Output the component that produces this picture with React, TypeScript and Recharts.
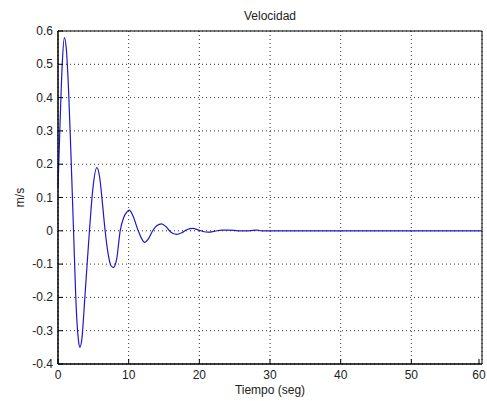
import React from 'react';
import { LineChart, Line, XAxis, YAxis, CartesianGrid, ReferenceArea } from 'recharts';

// time samples (s)
const tiempo = [
  0, 0.3, 0.6, 0.9, 1.2, 1.5, 1.8, 2.2, 2.6, 2.9, 3.1, 3.4, 3.8, 4.45, 4.9, 5.5,
  5.9, 6.3, 6.67, 7.1, 7.5, 7.85, 8.3, 8.8, 9.3, 9.7, 10.1, 10.6, 11.35, 11.8,
  12.25, 12.8, 13.4, 14.0, 14.65, 15.3, 15.9, 16.8, 17.6, 18.3, 19.05, 19.8,
  20.5, 21.3, 22.2, 23.2, 24.2, 25.5, 27, 28.2, 28.8, 30, 40, 50, 60,
];
// velocity (m/s)
const velocidad = [
  0.13, 0.33, 0.5, 0.58, 0.54, 0.42, 0.25, 0, -0.24, -0.33, -0.35, -0.32, -0.2,
  0, 0.12, 0.19, 0.16, 0.08, 0, -0.07, -0.105, -0.11, -0.085, 0, 0.04, 0.055,
  0.062, 0.045, 0, -0.022, -0.035, -0.024, 0, 0.016, 0.021, 0.012, -0.003,
  -0.011, -0.005, 0.004, 0.007, 0.003, -0.002, -0.004, -0.001, 0.002, 0.002, 0,
  0, 0.002, 0, 0, 0, 0, 0,
];

const xTicks = [0, 10, 20, 30, 40, 50, 60];
const yTicks = [-0.4, -0.3, -0.2, -0.1, 0, 0.1, 0.2, 0.3, 0.4, 0.5, 0.6];

const data = tiempo.map((t, i) => ({ t, v: velocidad[i] }));

const font = 'Liberation Sans, Arial, sans-serif';
const textStyle = { fontSize: 12, fill: '#222', fontFamily: font };
const fmt = (v: number) => String(Math.round(v * 10) / 10);

// recharts places the tick at tickSize + tickMargin away from the axis line
const TICK_SIZE = 6;
const TICK_MARGIN = 2;
const OFF = TICK_SIZE + TICK_MARGIN;

// matlab style: tick marks point into the plot box
const BottomTick = (props: any) => {
  const { x, payload } = props;
  const y = props.y - OFF;
  return (
    <g>
      <line x1={x} y1={y} x2={x} y2={y - 5} stroke="#000" />
      <text x={x} y={y + 15} textAnchor="middle" {...textStyle}>{payload.value}</text>
    </g>
  );
};
const TopTick = (props: any) => {
  const { x } = props;
  const y = props.y + OFF;
  return <line x1={x} y1={y} x2={x} y2={y + 5} stroke="#000" />;
};
const LeftTick = (props: any) => {
  const { y, payload } = props;
  const x = props.x + OFF;
  return (
    <g>
      <line x1={x} y1={y} x2={x + 5} y2={y} stroke="#000" />
      <text x={x - 5} y={y + 4} textAnchor="end" {...textStyle}>{fmt(payload.value)}</text>
    </g>
  );
};
const RightTick = (props: any) => {
  const { y } = props;
  const x = props.x - OFF;
  return <line x1={x} y1={y} x2={x - 5} y2={y} stroke="#000" />;
};

const App: React.FC = () => {
  return (
    <div style={{ position: 'absolute', left: 0, top: 0, background: '#fff' }}>
      <LineChart
        width={487}
        height={401}
        data={data}
        margin={{ top: 31, right: 5, left: 0, bottom: 0 }}
      >
        <CartesianGrid xAxisId="bottom" yAxisId="left" stroke="#333" strokeDasharray="1 3" />
        <XAxis
          xAxisId="bottom"
          dataKey="t"
          type="number"
          domain={[0, 60]}
          ticks={xTicks}
          height={37}
          tick={<BottomTick />}
          tickSize={TICK_SIZE}
          tickMargin={TICK_MARGIN}
          tickLine={false}
          axisLine={{ stroke: '#000', strokeWidth: 1 }}
          label={{ value: 'Tiempo (seg)', position: 'insideBottom', offset: 7, style: textStyle }}
        />
        <XAxis
          xAxisId="top"
          orientation="top"
          dataKey="t"
          type="number"
          domain={[0, 60]}
          ticks={xTicks}
          height={0}
          tick={<TopTick />}
          tickSize={TICK_SIZE}
          tickMargin={TICK_MARGIN}
          tickLine={false}
          axisLine={{ stroke: '#000', strokeWidth: 1 }}
        />
        <YAxis
          yAxisId="left"
          type="number"
          domain={[-0.4, 0.6]}
          ticks={yTicks}
          width={58}
          tick={<LeftTick />}
          tickSize={TICK_SIZE}
          tickMargin={TICK_MARGIN}
          tickLine={false}
          axisLine={{ stroke: '#000', strokeWidth: 1 }}
          label={{ value: 'm/s', angle: -90, position: 'insideLeft', offset: 20, style: { ...textStyle, textAnchor: 'middle' } }}
        />
        <YAxis
          yAxisId="right"
          orientation="right"
          type="number"
          domain={[-0.4, 0.6]}
          ticks={yTicks}
          width={0}
          tick={<RightTick />}
          tickSize={TICK_SIZE}
          tickMargin={TICK_MARGIN}
          tickLine={false}
          axisLine={{ stroke: '#000', strokeWidth: 1 }}
        />
        <ReferenceArea
          xAxisId="bottom"
          yAxisId="left"
          x1={0}
          x2={60}
          y1={-0.4}
          y2={0.6}
          fill="none"
          stroke="#000"
          strokeWidth={1}
          label={{ value: 'Velocidad', position: 'top', offset: 11, style: textStyle }}
        />
        <Line
          xAxisId="bottom"
          yAxisId="left"
          type="monotone"
          dataKey="v"
          stroke="#1a1ac8"
          strokeWidth={1.2}
          dot={false}
          isAnimationActive={false}
        />
      </LineChart>
    </div>
  );
};

export default App;
